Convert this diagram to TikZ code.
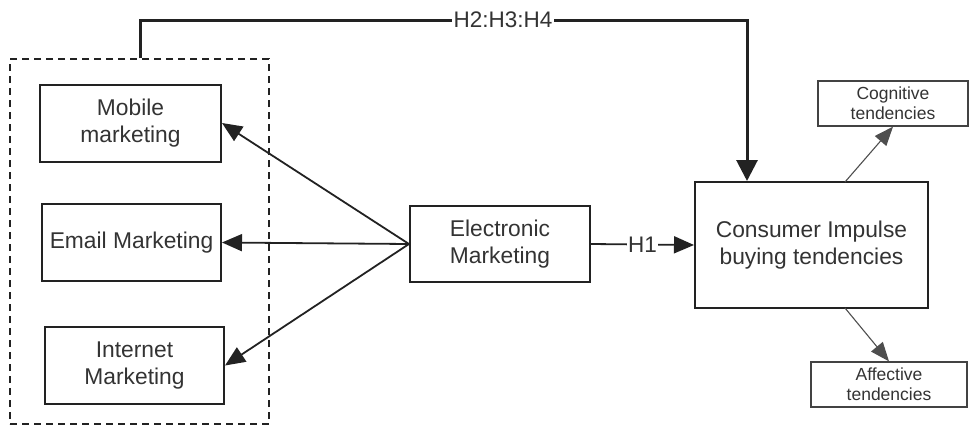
\documentclass[tikz,border=0pt]{standalone}
\usepackage{fontspec}
\setmainfont{Liberation Sans}
\usetikzlibrary{arrows.meta}
\definecolor{ink}{HTML}{222222}
\definecolor{txt}{HTML}{333333}
\tikzset{
  box/.style={draw=ink, line width=2pt, text=txt, align=center,
    font=\fontsize{22.8}{27}\selectfont, inner sep=0pt},
  smallbox/.style={draw=ink!85, line width=1.3pt, text=txt, align=center,
    font=\fontsize{17.5}{20}\selectfont, inner sep=0pt},
  link/.style={draw=ink, line width=1.8pt,
    -{Triangle[length=20pt,width=17pt]}},
  thinlink/.style={draw=ink!80, line width=1.1pt,
    -{Triangle[length=19pt,width=15pt]}},
  hyp/.style={fill=white, text=txt, font=\fontsize{22.5}{26}\selectfont,
    inner sep=1.5pt}
}
\begin{document}
\begin{tikzpicture}[x=1pt, y=-1pt]
\useasboundingbox (0,0) rectangle (971,426);

% group of marketing channels
\node[draw=ink, line width=1.4pt, dash pattern=on 7pt off 5pt,
  minimum width=259pt, minimum height=365pt, inner sep=0pt]
  (grp) at (139.5,241.5) {};

\node[box, minimum width=181pt, minimum height=77pt] (mob) at (130.5,123)
  {Mobile\\marketing};
\node[box, minimum width=179pt, minimum height=77pt] (eml) at (131.5,242.5)
  {Email Marketing};
\node[box, minimum width=179pt, minimum height=77pt] (inet) at (134.5,365.5)
  {Internet\\Marketing};

\node[box, minimum width=180pt, minimum height=76pt] (elec) at (500,244)
  {Electronic\\Marketing};

\node[box, minimum width=233pt, minimum height=126pt] (cons) at (811.5,245)
  {Consumer Impulse\\buying tendencies};

\node[smallbox, minimum width=150pt, minimum height=45pt] (cog) at (893,103.5)
  {Cognitive\\tendencies};
\node[smallbox, minimum width=156pt, minimum height=45pt] (aff) at (889,384.5)
  {Affective\\tendencies};

% electronic marketing to each channel
\draw[link] (elec.west) -- (mob.east);
\draw[link] (elec.west) -- (eml.east);
\draw[link] (elec.west) -- (inet.east);

% H1
\draw[link] (elec.east) -- node[hyp] {H1} (cons.west);

% H2:H3:H4 from the channel group
\coordinate (gtop) at (140,20);
\coordinate (ctop) at (747,20);
\draw[draw=ink, line width=3pt, -{Triangle[length=21pt,width=21pt]}]
  (grp.north -| gtop) -- (gtop) -- (ctop) -- (cons.north -| ctop);
\node[hyp] (hlab) at (503,20) {H2:H3:H4};

% dimensions of impulse buying
\coordinate (cu) at (845,182);
\coordinate (cd) at (845,308);
\draw[thinlink] (cu) -- (cog.south);
\draw[thinlink] (cd) -- (aff.north);
\end{tikzpicture}
\end{document}
